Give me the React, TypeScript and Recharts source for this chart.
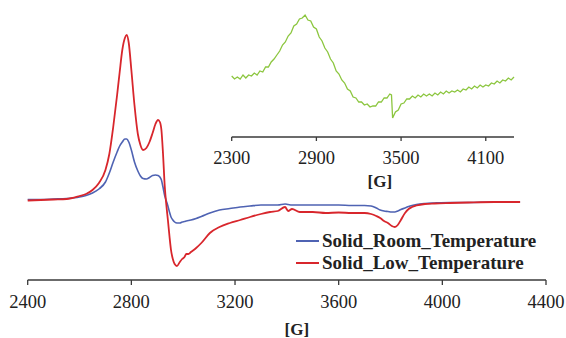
import React from 'react';
import { LineChart, Line, XAxis, YAxis, Legend, Label } from 'recharts';

// Main spectrum: magnetic field [G]
const mainField = [
  2400, 2450, 2500, 2550, 2600, 2625, 2650, 2675, 2700, 2715,
  2730, 2745, 2755, 2765, 2775, 2782, 2790, 2800, 2812, 2825,
  2835, 2845, 2858, 2870, 2882, 2893, 2903, 2910, 2916, 2922,
  2929, 2935, 2941, 2947, 2953, 2960, 2967, 2976, 2987, 2996,
  3005, 3012, 3020, 3030, 3050, 3070, 3103, 3140, 3180, 3220,
  3258, 3300, 3335, 3365, 3393, 3405, 3420, 3450, 3500, 3550,
  3600, 3650, 3700, 3725, 3745, 3760, 3775, 3790, 3805, 3817,
  3828, 3840, 3856, 3870, 3883, 3900, 3933, 3970, 4030, 4100,
  4200, 4300,
];
const lowTemp = [
  -0.5, 0, 0.5, 1, 4, 6, 10, 17, 30, 46,
  73, 105, 128, 150, 162, 165, 157, 130, 95, 66,
  55, 50, 52, 58, 67, 76, 80, 78, 70, 47,
  13, -5, -20, -36, -50, -59, -64, -66, -62, -59,
  -57, -54, -54, -52, -48, -43, -33, -27, -23, -20,
  -17, -14, -12, -11, -7, -11, -9, -12, -12, -13,
  -12.5, -13, -13, -14, -16, -18, -21, -23, -26, -27,
  -25, -20, -13, -9, -7, -5.5, -4, -3.5, -3, -2.5,
  -2, -2,
];
const roomTemp = [
  0.5, 0.5, 1, 1.5, 3, 4.5, 7, 11, 18, 27,
  38, 48, 54, 58, 61, 61, 58, 50, 38, 29,
  24, 21.5, 21, 22.5, 24.5, 25, 24.5, 23, 20, 13,
  4, -1, -6, -12, -17, -20, -22, -23, -23, -22,
  -21.5, -21, -20.5, -20, -18.5, -16.5, -13, -10, -8.5, -7,
  -6, -5, -5, -5, -4, -4.5, -5, -5, -5, -5,
  -5, -5.5, -5.5, -6, -8, -10, -11, -11.5, -12, -12,
  -11, -9.5, -8, -6.5, -5.5, -4.5, -3.5, -3, -2.5, -2.5,
  -2, -2,
];
const mainTicks = [2400, 2800, 3200, 3600, 4000, 4400];

// Inset spectrum
const insetField = [
  2300, 2320, 2340, 2360, 2380, 2400, 2420, 2440, 2460, 2480,
  2500, 2520, 2540, 2560, 2580, 2600, 2620, 2640, 2660, 2680,
  2700, 2720, 2740, 2760, 2780, 2800, 2820, 2840, 2860, 2880,
  2900, 2920, 2940, 2960, 2980, 3000, 3020, 3040, 3060, 3080,
  3100, 3120, 3140, 3160, 3180, 3200, 3220, 3240, 3260, 3280,
  3300, 3320, 3340, 3360, 3380, 3400, 3420, 3432, 3440, 3460,
  3480, 3500, 3520, 3540, 3560, 3580, 3600, 3620, 3640, 3660,
  3680, 3700, 3720, 3740, 3760, 3780, 3800, 3820, 3840, 3860,
  3880, 3900, 3920, 3940, 3960, 3980, 4000, 4020, 4040, 4060,
  4080, 4100, 4120, 4140, 4160, 4180, 4200, 4220, 4240, 4260,
  4280, 4300,
];
const insetSignal = [
  61, 58, 60, 58, 62, 59, 62, 61, 64, 62,
  66, 65, 70, 70, 75, 78, 82, 86, 92, 95,
  101, 104, 111, 113, 118, 119, 122, 117, 116, 110,
  108, 100, 96, 89, 85, 78, 74, 66, 63, 57,
  54, 48, 46, 40, 39, 35, 35, 32, 33, 30,
  31, 31, 35, 35, 39, 39, 43, 42, 19, 25,
  27, 33, 34, 38, 38, 41, 39, 42, 40, 43,
  41, 43, 41, 44, 42, 45, 43, 46, 44, 46,
  45, 47, 45, 48, 47, 50, 48, 51, 49, 52,
  50, 52, 51, 54, 53, 56, 54, 57, 56, 59,
  57, 60,
];
const insetTicks = [2300, 2900, 3500, 4100];

const seriesNames = ['Solid_Room_Temperature', 'Solid_Low_Temperature'];
const axisTitle = '[G]';

const mainData = mainField.map((g, i) => ({ g, room: roomTemp[i], low: lowTemp[i] }));
const insetData = insetField.map((g, i) => ({ g, v: insetSignal[i] }));

const FONT = 'Liberation Serif, Times New Roman, serif';
const AXIS = '#3a3a3a';
const TEXT = '#222';
const BLUE = '#4f63b3';
const RED = '#d8262c';
const GREEN = '#8cc63f';

const SerifTick = (props: any) => {
  const { x, y, payload } = props;
  return (
    <text x={x} y={y} dy="0.71em" textAnchor="middle" fill={TEXT} fontSize={18.5} fontFamily={FONT}>
      {payload.value}
    </text>
  );
};

const renderLegend = (props: any) => {
  const payload = [...(props.payload || [])].sort(
    (a: any, b: any) => seriesNames.indexOf(a.value) - seriesNames.indexOf(b.value)
  );
  return (
    <div style={{ fontFamily: FONT, fontWeight: 'bold', fontSize: 19, color: TEXT, lineHeight: '22px', whiteSpace: 'nowrap' }}>
      {payload.map((p: any) => (
        <div key={p.value} style={{ display: 'flex', alignItems: 'center', height: 22 }}>
          <span style={{ display: 'inline-block', width: 23, height: 2, background: p.color, marginRight: 3 }} />
          <span>{p.value}</span>
        </div>
      ))}
    </div>
  );
};

export default function App() {
  return (
    <div style={{ position: 'absolute', left: 0, top: 0, width: 566, height: 338, background: '#fff', fontFamily: FONT }}>
      <div style={{ position: 'absolute', left: 0, top: 0 }}>
        <LineChart width={566} height={338} data={mainData} margin={{ top: 20, left: 27.7, right: 20, bottom: 18 }}>
          <XAxis
            dataKey="g"
            type="number"
            domain={[2400, 4400]}
            ticks={mainTicks}
            height={40}
            tickSize={5}
            tickMargin={9.7}
            axisLine={{ stroke: AXIS, strokeWidth: 1.3 }}
            tickLine={{ stroke: AXIS, strokeWidth: 1.3 }}
            tick={<SerifTick />}
            interval={0}
          >
            <Label value={axisTitle} position="bottom" offset={2.5} dx={10} style={{ fontFamily: FONT, fontWeight: 'bold', fontSize: 17, fill: TEXT }} />
          </XAxis>
          <YAxis hide domain={[-80, 180]} allowDataOverflow />
          <Line dataKey="room" name={seriesNames[0]} stroke={BLUE} strokeWidth={1.6} dot={false} type="monotone" isAnimationActive={false} />
          <Line dataKey="low" name={seriesNames[1]} stroke={RED} strokeWidth={1.8} dot={false} type="monotone" isAnimationActive={false} />
          <Legend
            layout="horizontal"
            verticalAlign="middle"
            align="center"
            content={renderLegend}
            wrapperStyle={{ left: 296, top: 230, width: 260, height: 44 }}
          />
        </LineChart>
      </div>
      <div style={{ position: 'absolute', left: 200, top: 0 }}>
        <LineChart width={366} height={200} data={insetData} margin={{ top: 10, left: 31.7, right: 52, bottom: 28 }}>
          <XAxis
            dataKey="g"
            type="number"
            domain={[2300, 4300]}
            ticks={insetTicks}
            height={35}
            tickSize={4}
            tickMargin={10}
            axisLine={{ stroke: AXIS, strokeWidth: 1.3 }}
            tickLine={{ stroke: AXIS, strokeWidth: 1.3 }}
            tick={<SerifTick />}
            interval={0}
          >
            <Label value={axisTitle} position="bottom" offset={2.5} dx={7} style={{ fontFamily: FONT, fontWeight: 'bold', fontSize: 17, fill: TEXT }} />
          </XAxis>
          <YAxis hide domain={[0, 127]} allowDataOverflow />
          <Line dataKey="v" stroke={GREEN} strokeWidth={1.3} dot={false} type="linear" isAnimationActive={false} />
        </LineChart>
      </div>
    </div>
  );
}
